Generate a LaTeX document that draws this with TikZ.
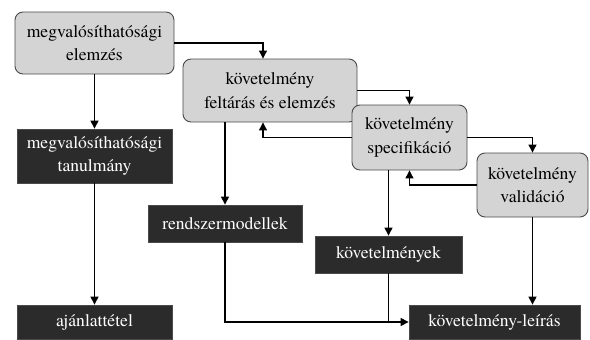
\documentclass[tikz,border=0pt]{standalone}
\usepackage{fontspec}
\setmainfont{texgyretermes}[Extension=.otf,UprightFont=*-regular,BoldFont=*-bold,ItalicFont=*-italic,BoldItalicFont=*-bolditalic]
\usetikzlibrary{arrows.meta,calc}
\definecolor{lightbox}{HTML}{D4D4D4}
\definecolor{darkbox}{HTML}{2B2B2B}
\definecolor{boxline}{HTML}{4A4A4A}
\begin{document}
\begin{tikzpicture}[x=1pt,y=-1pt,
  every node/.style={font=\rmfamily\fontsize{17.6}{23.5}\selectfont, align=center, inner sep=0pt},
  procbox/.style={draw=boxline, line width=0.9pt, fill=lightbox, rounded corners=8pt},
  docbox/.style={draw=boxline, line width=0.8pt, fill=darkbox, text=white},
  arr/.style={line width=1.1pt, -{Triangle[length=8pt,width=8pt]}},
  ln/.style={line width=1.1pt}]
\useasboundingbox (0,0) rectangle (590,340);
\node[procbox, minimum width=159pt, minimum height=62pt] (E1) at (94.5,43) {megvalósíthatósági\\elemzés};
\node[docbox, minimum width=155pt, minimum height=54pt] (T) at (94.5,156) {megvalósíthatósági\\tanulmány};
\node[docbox, minimum width=155pt, minimum height=34pt] (A) at (94.5,322) {ajánlattétel};
\node[procbox, minimum width=174pt, minimum height=63pt] (F) at (270,90.5) {követelmény\\feltárás és elemzés};
\node[procbox, minimum width=115pt, minimum height=65pt] (S) at (409.5,137.5) {követelmény\\specifikáció};
\node[procbox, minimum width=111pt, minimum height=64pt] (V) at (532.5,185) {követelmény\\validáció};
\node[docbox, minimum width=154pt, minimum height=37pt] (R) at (225,223.5) {rendszermodellek};
\node[docbox, minimum width=147pt, minimum height=37pt] (K) at (388.5,254.5) {követelmények};
\node[docbox, minimum width=171pt, minimum height=34pt] (L) at (494.5,322) {követelmény-leírás};
\coordinate (Fin) at ($(F.north)+(-7,0)$);
\coordinate (Fout) at ($(F.south)+(-7,0)$);
\draw[arr] (E1.east) -| (Fin);
\draw[arr] (E1.south) -- (T.north);
\draw[arr] (T.south) -- (A.north);
\draw[arr] (R.north |- F.south) -- (R.north);
\draw[arr] (F.east) -| (S.north);
\draw[arr] (S.west) -| (Fout);
\draw[arr] (S.east) -| (V.north);
\draw[arr] (V.west) -| (S.south);
\draw[arr] (K.north |- S.south) -- (K.north);
\draw[arr] (V.south) -- (V.south |- L.north);
\draw[arr] (R.south) |- (L.west);
\draw[ln] (K.south) -- (K.south |- L.west);
\end{tikzpicture}
\end{document}
